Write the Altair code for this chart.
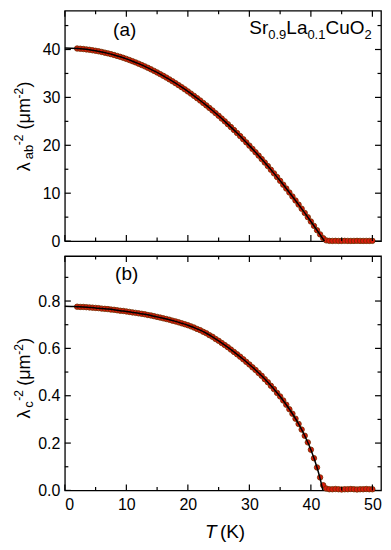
import altair as alt
import pandas as pd

# ---------------- data ----------------
temps = [2.0, 2.5, 3.0, 3.5, 4.0, 4.5, 5.0, 5.5, 6.0, 6.5,
         7.0, 7.5, 8.0, 8.5, 9.0, 9.5, 10.0, 10.5, 11.0, 11.5,
         12.0, 12.5, 13.0, 13.5, 14.0, 14.5, 15.0, 15.5, 16.0, 16.5,
         17.0, 17.5, 18.0, 18.5, 19.0, 19.5, 20.0, 20.5, 21.0, 21.5,
         22.0, 22.5, 23.0, 23.5, 24.0, 24.5, 25.0, 25.5, 26.0, 26.5,
         27.0, 27.5, 28.0, 28.5, 29.0, 29.5, 30.0, 30.5, 31.0, 31.5,
         32.0, 32.5, 33.0, 33.5, 34.0, 34.5, 35.0, 35.5, 36.0, 36.5,
         37.0, 37.5, 38.0, 38.5, 39.0, 39.5, 40.0, 40.5, 41.0, 41.5,
         42.0, 42.5, 43.0, 43.5, 44.0, 44.5, 45.0, 45.5, 46.0, 46.5,
         47.0, 47.5, 48.0, 48.5, 49.0, 49.5, 50.0]

lam_ab = [40.21, 40.16, 40.10, 40.02, 39.94, 39.84, 39.73, 39.62, 39.49, 39.34,
          39.19, 39.03, 38.85, 38.66, 38.47, 38.26, 38.04, 37.80, 37.56, 37.31,
          37.04, 36.76, 36.48, 36.18, 35.86, 35.54, 35.21, 34.86, 34.51, 34.14,
          33.76, 33.37, 32.97, 32.55, 32.13, 31.69, 31.25, 30.79, 30.32, 29.84,
          29.35, 28.84, 28.33, 27.80, 27.27, 26.72, 26.16, 25.58, 25.00, 24.41,
          23.80, 23.19, 22.56, 21.92, 21.27, 20.61, 19.93, 19.25, 18.55, 17.85,
          17.13, 16.40, 15.66, 14.90, 14.14, 13.37, 12.58, 11.78, 10.97, 10.15,
          9.32, 8.48, 7.62, 6.76, 5.88, 4.99, 4.09, 3.18, 2.26, 1.40,
          0.62, 0.15, 0.05, 0.04, 0.05, 0.03, 0.04, 0.05, 0.04, 0.03,
          0.04, 0.05, 0.04, 0.03, 0.04, 0.04, 0.05]

lam_c = [0.776, 0.775, 0.775, 0.774, 0.773, 0.772, 0.771, 0.770, 0.768, 0.767,
         0.766, 0.764, 0.763, 0.761, 0.759, 0.758, 0.756, 0.754, 0.752, 0.750,
         0.748, 0.746, 0.744, 0.741, 0.739, 0.736, 0.733, 0.730, 0.727, 0.724,
         0.721, 0.717, 0.714, 0.710, 0.706, 0.702, 0.698, 0.693, 0.688, 0.682,
         0.677, 0.670, 0.664, 0.656, 0.649, 0.640, 0.632, 0.623, 0.614, 0.605,
         0.595, 0.585, 0.575, 0.565, 0.554, 0.543, 0.532, 0.520, 0.509, 0.496,
         0.484, 0.470, 0.457, 0.442, 0.428, 0.412, 0.397, 0.380, 0.362, 0.343,
         0.324, 0.303, 0.281, 0.257, 0.231, 0.203, 0.172, 0.136, 0.097, 0.055,
         0.022, 0.008, 0.005, 0.005, 0.006, 0.005, 0.004, 0.005, 0.005, 0.006,
         0.005, 0.004, 0.005, 0.005, 0.006, 0.005, 0.005]

fit_t_ab = [0, 1, 2, 3, 4, 5, 6, 7, 8, 9, 10, 11, 12, 13, 14, 15, 16, 17, 18, 19,
            20, 21, 22, 23, 24, 25, 26, 27, 28, 29, 30, 31, 32, 33, 34, 35, 36, 37,
            38, 39, 40, 41, 42, 42.2]
fit_ab = [40.30, 40.28, 40.21, 40.10, 39.94, 39.73, 39.49, 39.19, 38.85, 38.47,
          38.04, 37.56, 37.04, 36.48, 35.86, 35.21, 34.51, 33.76, 32.97, 32.13,
          31.25, 30.32, 29.35, 28.33, 27.27, 26.16, 25.00, 23.80, 22.56, 21.27,
          19.93, 18.55, 17.13, 15.66, 14.14, 12.58, 10.97, 9.32, 7.62, 5.88,
          4.09, 2.26, 0.38, 0.0]

fit_t_c = [0, 1, 2, 3, 4, 5, 6, 7, 8, 9, 10, 11, 12, 13, 14, 15, 16, 17, 18, 19,
           20, 21, 22, 23, 24, 25, 26, 27, 28, 29, 30, 31, 32, 33, 34, 35, 36, 37,
           38, 39, 40, 41, 41.5, 41.95]
fit_c = [0.778, 0.777, 0.776, 0.775, 0.773, 0.771, 0.768, 0.766, 0.763, 0.759,
         0.756, 0.752, 0.748, 0.744, 0.739, 0.733, 0.727, 0.721, 0.714, 0.706,
         0.698, 0.688, 0.677, 0.664, 0.649, 0.632, 0.614, 0.595, 0.575, 0.554,
         0.532, 0.509, 0.484, 0.457, 0.428, 0.397, 0.362, 0.324, 0.281, 0.231,
         0.172, 0.097, 0.050, 0.0]

x_major = [0, 10, 20, 30, 40, 50]
x_minor = [5, 15, 25, 35, 45]
ya_major = [0, 10, 20, 30, 40]
ya_minor = [5, 15, 25, 35, 45]
yb_major = [0.0, 0.2, 0.4, 0.6, 0.8]
yb_minor = [0.1, 0.3, 0.5, 0.7, 0.9]

# ---------------- styling ----------------
FONT = "Liberation Sans"
W, HA, HB = 317, 231, 235
MAJ, MINL = 6, 3.5
PT_FILL = "#da1a0c"
PT_STROKE = "#6b3000"

xs = alt.Scale(domain=[0, 51.4], nice=False, zero=False)
ysa = alt.Scale(domain=[0, 48.1], nice=False, zero=False)
ysb = alt.Scale(domain=[0, 0.99], nice=False, zero=False)

dummy = pd.DataFrame({"d": [0]})


def txt(s, x, y, size, angle=0, italic=False, align="left"):
    kw = dict(text=s, font=FONT, fontSize=size, align=align,
              baseline="alphabetic", color="black")
    if angle:
        kw["angle"] = angle
    if italic:
        kw["fontStyle"] = "italic"
    return alt.Chart(dummy).mark_text(**kw).encode(x=alt.value(x), y=alt.value(y))


def panel(vals, fit_t, fit_v, ys, h, x_axis, y_axis, ymaj, ymin, extras):
    X = alt.X("T:Q", scale=xs, axis=x_axis)
    Y = alt.Y("v:Q", scale=ys, axis=y_axis)
    pts = alt.Chart(pd.DataFrame({"T": temps, "v": vals})).mark_circle(
        size=30, color=PT_FILL, stroke=PT_STROKE, strokeWidth=0.8, opacity=1
    ).encode(x=X, y=Y)
    fit = alt.Chart(pd.DataFrame({"T": fit_t, "v": fit_v})).mark_line(
        color="black", strokeWidth=1.5, interpolate="monotone"
    ).encode(x=X, y=Y)
    layers = [pts, fit]
    for vals_, ln in ((x_major, MAJ), (x_minor, MINL)):
        d = pd.DataFrame({"T": vals_})
        layers.append(alt.Chart(d).mark_rule(color="black", strokeWidth=1.2).encode(
            x=X, y=alt.value(h), y2=alt.value(h - ln)))
        layers.append(alt.Chart(d).mark_rule(color="black", strokeWidth=1.2).encode(
            x=X, y=alt.value(0), y2=alt.value(ln)))
    for vals_, ln in ((ymaj, MAJ), (ymin, MINL)):
        d = pd.DataFrame({"v": vals_})
        layers.append(alt.Chart(d).mark_rule(color="black", strokeWidth=1.2).encode(
            y=Y, x=alt.value(0), x2=alt.value(ln)))
        layers.append(alt.Chart(d).mark_rule(color="black", strokeWidth=1.2).encode(
            y=Y, x=alt.value(W), x2=alt.value(W - ln)))
    # invisible left anchor so the left extent of the chart is fixed
    layers.append(alt.Chart(dummy).mark_rule(opacity=0, strokeWidth=1).encode(
        x=alt.value(-56), x2=alt.value(-56), y=alt.value(100), y2=alt.value(110)))
    layers += extras
    return alt.layer(*layers).properties(width=W, height=h)


ya_axis = alt.Axis(values=ya_major, title=None, labelPadding=5, format="d")
yb_axis = alt.Axis(values=yb_major, title=None, labelPadding=5, format=".1f")
xb_axis = alt.Axis(values=x_major, title=None, labelPadding=6, format="d")

MX, SBX, SPX = -35, -32, -42   # baselines of main, subscript, superscript (rotated)

extras_a = [
    txt("(a)", 60, 25, 19, align="center"),
    txt("Sr", 185, 23, 19),
    txt("0.9", 204, 28, 13),
    txt("La", 222.1, 23, 19),
    txt("0.1", 243.2, 28, 13),
    txt("CuO", 261.3, 23, 19),
    txt("2", 300.4, 28, 13),
    # y title: lambda_ab^-2 (um^-2)
    txt("\u03bb", MX, 161, 18, angle=270),
    txt("ab", SBX, 149, 13, angle=270),
    txt("-2", SPX, 135, 12, angle=270),
    txt("(\u03bcm", MX, 119, 18, angle=270),
    txt("-2", SPX, 88, 12, angle=270),
    txt(")", MX, 77, 18, angle=270),
]

extras_b = [
    txt("(b)", 62, 24, 19, align="center"),
    txt("\u03bb", MX, 163, 18, angle=270),
    txt("c", SBX, 152, 13, angle=270),
    txt("-2", SPX, 145, 12, angle=270),
    txt("(\u03bcm", MX, 130, 18, angle=270),
    txt("-2", SPX, 99, 12, angle=270),
    txt(")", MX, 88, 18, angle=270),
    txt("T", 140.5, HB + 48, 19, italic=True),
    txt("(K)", 155.5, HB + 48, 19),
]

pa = panel(lam_ab, fit_t_ab, fit_ab, ysa, HA, None, ya_axis, ya_major, ya_minor, extras_a)
pb = panel(lam_c, fit_t_c, fit_c, ysb, HB, xb_axis, yb_axis, yb_major, yb_minor, extras_b)

chart = alt.vconcat(pa, pb, spacing=15, bounds="flush").properties(
    padding={"left": 0, "top": 0, "right": 0, "bottom": 0}
).configure_view(
    stroke="black", strokeWidth=1.3
).configure_axis(
    labelFont=FONT, labelFontSize=16, labelColor="black",
    grid=False, ticks=False, domain=False
)

chart.save("out.html", embed_options={"renderer": "svg", "actions": False})
